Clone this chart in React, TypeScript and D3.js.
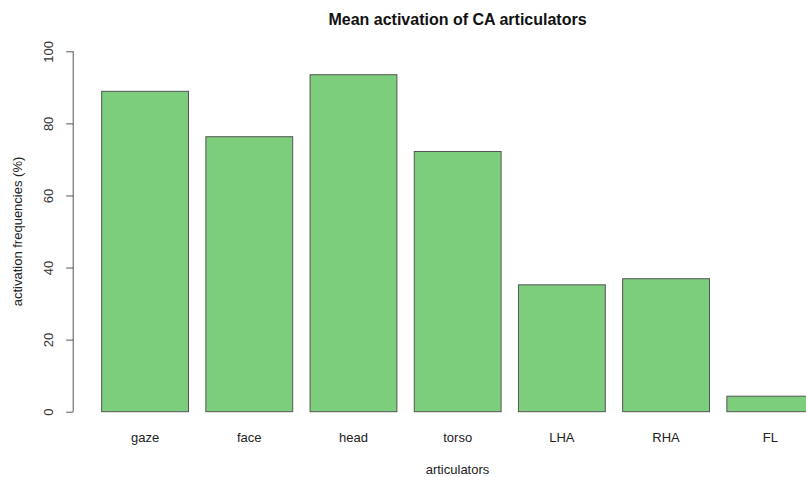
import React, { useEffect, useRef } from 'react';
import * as d3 from 'd3';

const categories = ['gaze', 'face', 'head', 'torso', 'LHA', 'RHA', 'FL'];
const values = [88.9, 76.3, 93.5, 72.2, 35.2, 36.9, 4.3];
const yTicks = [0, 20, 40, 60, 80, 100];

const W = 806;
const H = 477;
const FONT = '"Liberation Sans", Arial, Helvetica, sans-serif';

export default function App() {
  const svgRef = useRef<SVGSVGElement>(null);

  useEffect(() => {
    if (!svgRef.current) return;
    const svg = d3.select(svgRef.current);
    svg.selectAll('*').remove();

    // R barplot layout: bar width w, space 0.2w, plot region extended 4%
    const step = 104.2;
    const x = d3.scaleBand<string>()
      .domain(categories)
      .range([84.3, 84.3 + step * (categories.length + 1 / 6)])
      .paddingInner(1 / 6)
      .paddingOuter(1 / 6);

    const y = d3.scaleLinear().domain([0, 100]).range([411.7, 51.3]);
    const axisX = 73.2;

    // Bars
    svg.append('g')
      .selectAll('rect')
      .data(values)
      .enter()
      .append('rect')
      .attr('x', (_d, i) => x(categories[i]) || 0)
      .attr('y', d => y(d))
      .attr('width', x.bandwidth())
      .attr('height', d => y(0) - y(d))
      .attr('fill', '#7ccd7c')
      .attr('stroke', '#555')
      .attr('stroke-width', 1);

    // Y axis
    const yAxis = svg.append('g')
      .attr('transform', `translate(${axisX},0)`)
      .call(d3.axisLeft(y).tickValues(yTicks).tickSize(7).tickFormat(d3.format('d')));
    yAxis.select('.domain')
      .attr('d', `M0,${y(0)}V${y(100)}`)
      .attr('stroke', '#555');
    yAxis.selectAll('.tick line').attr('stroke', '#555');
    // rotated tick labels, reading upward
    yAxis.selectAll('.tick text')
      .attr('transform', 'rotate(-90)')
      .attr('x', 0)
      .attr('y', -20)
      .attr('dy', 0)
      .attr('text-anchor', 'middle')
      .attr('fill', '#333')
      .style('font-family', FONT)
      .style('font-size', '13px');

    // Category labels
    svg.append('g')
      .selectAll('text')
      .data(categories)
      .enter()
      .append('text')
      .attr('x', d => (x(d) || 0) + x.bandwidth() / 2)
      .attr('y', 441.5)
      .attr('text-anchor', 'middle')
      .attr('fill', '#222')
      .style('font-family', FONT)
      .style('font-size', '13px')
      .text(d => d);

    // Title
    svg.append('text')
      .attr('x', 457.5)
      .attr('y', 25)
      .attr('text-anchor', 'middle')
      .attr('fill', '#111')
      .style('font-family', FONT)
      .style('font-size', '16px')
      .style('font-weight', 'bold')
      .text('Mean activation of CA articulators');

    // Axis titles
    svg.append('text')
      .attr('x', 457.5)
      .attr('y', 474)
      .attr('text-anchor', 'middle')
      .attr('fill', '#222')
      .style('font-family', FONT)
      .style('font-size', '13px')
      .text('articulators');

    svg.append('text')
      .attr('transform', `translate(22,${(y(0) + y(100)) / 2}) rotate(-90)`)
      .attr('text-anchor', 'middle')
      .attr('fill', '#222')
      .style('font-family', FONT)
      .style('font-size', '13px')
      .text('activation frequencies (%)');
  }, []);

  return (
    <svg
      ref={svgRef}
      width={W}
      height={H}
      style={{ position: 'absolute', left: 0, top: 0, background: '#fff' }}
    />
  );
}
